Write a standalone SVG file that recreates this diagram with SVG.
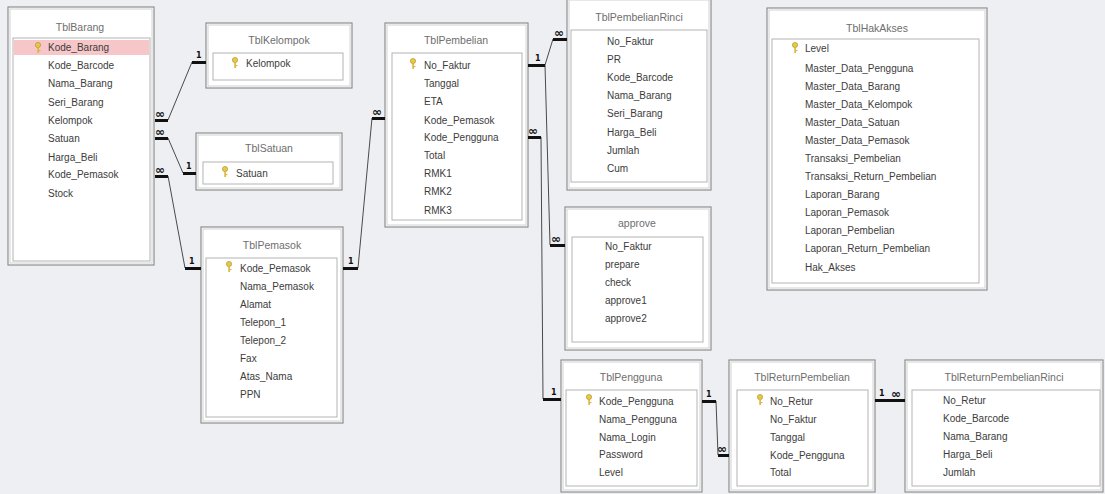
<svg xmlns="http://www.w3.org/2000/svg" width="1105" height="494" viewBox="0 0 1105 494">
<defs>
<style>
.bg{fill:#edeff2}
.win{fill:#ffffff;stroke:#8e8e8e;stroke-width:1.2}
.frame{fill:none;stroke:#d2d2d2;stroke-width:1}
.list{fill:#ffffff;stroke:#b4b4b4;stroke-width:1}
.title{font-family:"Liberation Sans",Arial,sans-serif;font-size:10.5px;fill:#6e6e6e;text-anchor:middle}
.row{font-family:"Liberation Sans",Arial,sans-serif;font-size:10px;fill:#3c3c3c}
.pk{fill:#f6c6c8}
.line{fill:none;stroke:#4a4a4a;stroke-width:1}
.stub{fill:#111111}
.card{font-family:"DejaVu Sans",sans-serif;font-size:8px;font-weight:bold;fill:#111111}
.inf{font-family:"DejaVu Sans",sans-serif;font-size:12px;font-weight:bold;fill:#111111}
</style>
<g id="key">
<circle cx="0" cy="-3" r="2.6" fill="#e6c84a" stroke="#b08a1a" stroke-width="0.6"/>
<rect x="-0.7" y="-1" width="1.6" height="6" fill="#d8b63a"/>
<rect x="0.8" y="2" width="1.6" height="1.2" fill="#d8b63a"/>
</g>
</defs>
<rect class="bg" x="0" y="0" width="1105" height="494"/>

<g id="TblBarang">
<rect class="win" x="8" y="7" width="146" height="258"/>
<rect class="frame" x="10" y="9" width="142" height="254"/>
<text class="title" x="80" y="31">TblBarang</text>
<rect class="list" x="13" y="38" width="137" height="223"/>
<rect class="pk" x="14" y="40" width="135" height="15"/>
<use href="#key" x="38" y="48"/>
<text class="row" x="48" y="51">Kode_Barang</text>
<text class="row" x="48" y="69">Kode_Barcode</text>
<text class="row" x="48" y="87">Nama_Barang</text>
<text class="row" x="48" y="106">Seri_Barang</text>
<text class="row" x="48" y="124">Kelompok</text>
<text class="row" x="48" y="142">Satuan</text>
<text class="row" x="48" y="161">Harga_Beli</text>
<text class="row" x="48" y="178">Kode_Pemasok</text>
<text class="row" x="48" y="197">Stock</text>
</g>

<g id="TblKelompok">
<rect class="win" x="206" y="23" width="146" height="65"/>
<rect class="frame" x="208" y="25" width="142" height="61"/>
<text class="title" x="279" y="44">TblKelompok</text>
<rect class="list" x="213" y="53" width="130" height="27"/>
<use href="#key" x="235" y="63"/>
<text class="row" x="246" y="67">Kelompok</text>
</g>

<g id="TblSatuan">
<rect class="win" x="196" y="133" width="146" height="57"/>
<rect class="frame" x="198" y="135" width="142" height="53"/>
<text class="title" x="269" y="152">TblSatuan</text>
<rect class="list" x="203" y="162" width="130" height="22"/>
<use href="#key" x="225" y="172"/>
<text class="row" x="236" y="177">Satuan</text>
</g>

<g id="TblPemasok">
<rect class="win" x="201" y="227" width="142" height="196"/>
<rect class="frame" x="203" y="229" width="138" height="192"/>
<text class="title" x="272" y="249">TblPemasok</text>
<rect class="list" x="206" y="258" width="131" height="159"/>
<use href="#key" x="229" y="267"/>
<text class="row" x="240" y="272">Kode_Pemasok</text>
<text class="row" x="240" y="290">Nama_Pemasok</text>
<text class="row" x="240" y="308">Alamat</text>
<text class="row" x="240" y="326">Telepon_1</text>
<text class="row" x="240" y="344">Telepon_2</text>
<text class="row" x="240" y="362">Fax</text>
<text class="row" x="240" y="380">Atas_Nama</text>
<text class="row" x="240" y="398">PPN</text>
</g>

<g id="TblPembelian">
<rect class="win" x="385" y="23" width="143" height="204"/>
<rect class="frame" x="387" y="25" width="139" height="200"/>
<text class="title" x="456" y="44">TblPembelian</text>
<rect class="list" x="392" y="53" width="130" height="167"/>
<use href="#key" x="413" y="64"/>
<text class="row" x="424" y="69">No_Faktur</text>
<text class="row" x="424" y="87">Tanggal</text>
<text class="row" x="424" y="105">ETA</text>
<text class="row" x="424" y="124">Kode_Pemasok</text>
<text class="row" x="424" y="141">Kode_Pengguna</text>
<text class="row" x="424" y="159">Total</text>
<text class="row" x="424" y="177">RMK1</text>
<text class="row" x="424" y="195">RMK2</text>
<text class="row" x="424" y="214">RMK3</text>
</g>

<g id="TblPembelianRinci">
<rect class="win" x="567" y="-2" width="144" height="192"/>
<rect class="frame" x="569" y="0" width="140" height="188"/>
<text class="title" x="639" y="21">TblPembelianRinci</text>
<rect class="list" x="571" y="30" width="136" height="152"/>
<text class="row" x="607" y="45">No_Faktur</text>
<text class="row" x="607" y="63">PR</text>
<text class="row" x="607" y="81">Kode_Barcode</text>
<text class="row" x="607" y="99">Nama_Barang</text>
<text class="row" x="607" y="117">Seri_Barang</text>
<text class="row" x="607" y="136">Harga_Beli</text>
<text class="row" x="607" y="154">Jumlah</text>
<text class="row" x="607" y="172">Cum</text>
</g>

<g id="approve">
<rect class="win" x="565" y="207" width="146" height="143"/>
<rect class="frame" x="567" y="209" width="142" height="139"/>
<text class="title" x="637" y="227">approve</text>
<rect class="list" x="572" y="237" width="131" height="105"/>
<text class="row" x="605" y="250">No_Faktur</text>
<text class="row" x="605" y="268">prepare</text>
<text class="row" x="605" y="286">check</text>
<text class="row" x="605" y="304">approve1</text>
<text class="row" x="605" y="322">approve2</text>
</g>

<g id="TblHakAkses">
<rect class="win" x="767" y="8" width="220" height="282"/>
<rect class="frame" x="769" y="10" width="216" height="278"/>
<text class="title" x="877" y="32">TblHakAkses</text>
<rect class="list" x="772" y="39" width="207" height="244"/>
<use href="#key" x="795" y="48"/>
<text class="row" x="805" y="52">Level</text>
<text class="row" x="805" y="72">Master_Data_Pengguna</text>
<text class="row" x="805" y="90">Master_Data_Barang</text>
<text class="row" x="805" y="108">Master_Data_Kelompok</text>
<text class="row" x="805" y="126">Master_Data_Satuan</text>
<text class="row" x="805" y="144">Master_Data_Pemasok</text>
<text class="row" x="805" y="162">Transaksi_Pembelian</text>
<text class="row" x="805" y="180">Transaksi_Return_Pembelian</text>
<text class="row" x="805" y="198">Laporan_Barang</text>
<text class="row" x="805" y="216">Laporan_Pemasok</text>
<text class="row" x="805" y="234">Laporan_Pembelian</text>
<text class="row" x="805" y="252">Laporan_Return_Pembelian</text>
<text class="row" x="805" y="271">Hak_Akses</text>
</g>

<g id="TblPengguna">
<rect class="win" x="561" y="360" width="141" height="132"/>
<rect class="frame" x="563" y="362" width="137" height="128"/>
<text class="title" x="631" y="381">TblPengguna</text>
<rect class="list" x="566" y="390" width="131" height="96"/>
<use href="#key" x="589" y="400"/>
<text class="row" x="599" y="405">Kode_Pengguna</text>
<text class="row" x="599" y="423">Nama_Pengguna</text>
<text class="row" x="599" y="441">Nama_Login</text>
<text class="row" x="599" y="458">Password</text>
<text class="row" x="599" y="476">Level</text>
</g>

<g id="TblReturnPembelian">
<rect class="win" x="729" y="360" width="146" height="132"/>
<rect class="frame" x="731" y="362" width="142" height="128"/>
<text class="title" x="802" y="381">TblReturnPembelian</text>
<rect class="list" x="737" y="390" width="131" height="96"/>
<use href="#key" x="760" y="400"/>
<text class="row" x="770" y="405">No_Retur</text>
<text class="row" x="770" y="423">No_Faktur</text>
<text class="row" x="770" y="441">Tanggal</text>
<text class="row" x="770" y="459">Kode_Pengguna</text>
<text class="row" x="770" y="476">Total</text>
</g>

<g id="TblReturnPembelianRinci">
<rect class="win" x="905" y="360" width="198" height="132"/>
<rect class="frame" x="907" y="362" width="194" height="128"/>
<text class="title" x="1004" y="381">TblReturnPembelianRinci</text>
<rect class="list" x="912" y="390" width="188" height="96"/>
<text class="row" x="943" y="404">No_Retur</text>
<text class="row" x="943" y="422">Kode_Barcode</text>
<text class="row" x="943" y="440">Nama_Barang</text>
<text class="row" x="943" y="458">Harga_Beli</text>
<text class="row" x="943" y="476">Jumlah</text>
</g>

<g id="connectors">
<path class="line" d="M168 120 L192 62"/>
<path class="line" d="M168 138 L183 173"/>
<path class="line" d="M168 176 L185 268"/>
<path class="line" d="M358 268 L372 118"/>
<path class="line" d="M545 65 L553 39"/>
<path class="line" d="M545 65 L550 245"/>
<path class="line" d="M541 137 L543 399"/>
<path class="line" d="M716 401 L718 455"/>
<rect class="stub" x="155" y="119" width="13" height="3"/>
<rect class="stub" x="155" y="137" width="13" height="3"/>
<rect class="stub" x="155" y="175" width="13" height="3"/>
<text class="inf" x="155" y="118">∞</text>
<text class="inf" x="155" y="136">∞</text>
<text class="inf" x="155" y="174">∞</text>
<rect class="stub" x="192" y="61" width="14" height="3"/>
<text class="card" x="196" y="58">1</text>
<rect class="stub" x="183" y="172" width="13" height="3"/>
<text class="card" x="186" y="169">1</text>
<rect class="stub" x="185" y="267" width="16" height="3"/>
<text class="card" x="189" y="264">1</text>
<rect class="stub" x="343" y="267" width="15" height="3"/>
<text class="card" x="348" y="264">1</text>
<rect class="stub" x="372" y="117" width="13" height="3"/>
<text class="inf" x="372" y="116">∞</text>
<rect class="stub" x="528" y="64" width="17" height="3"/>
<text class="card" x="535" y="61">1</text>
<rect class="stub" x="528" y="136" width="13" height="3"/>
<text class="inf" x="528" y="135">∞</text>
<rect class="stub" x="553" y="38" width="14" height="3"/>
<text class="inf" x="554" y="37">∞</text>
<rect class="stub" x="550" y="244" width="15" height="3"/>
<text class="inf" x="551" y="243">∞</text>
<rect class="stub" x="543" y="398" width="18" height="3"/>
<text class="card" x="551" y="395">1</text>
<rect class="stub" x="702" y="400" width="14" height="3"/>
<text class="card" x="706" y="397">1</text>
<rect class="stub" x="718" y="454" width="11" height="3"/>
<text class="inf" x="717" y="453">∞</text>
<rect class="stub" x="875" y="399" width="15" height="3"/>
<text class="card" x="879" y="396">1</text>
<rect class="stub" x="890" y="399" width="15" height="3"/>
<text class="inf" x="891" y="398">∞</text>
</g>
</svg>
